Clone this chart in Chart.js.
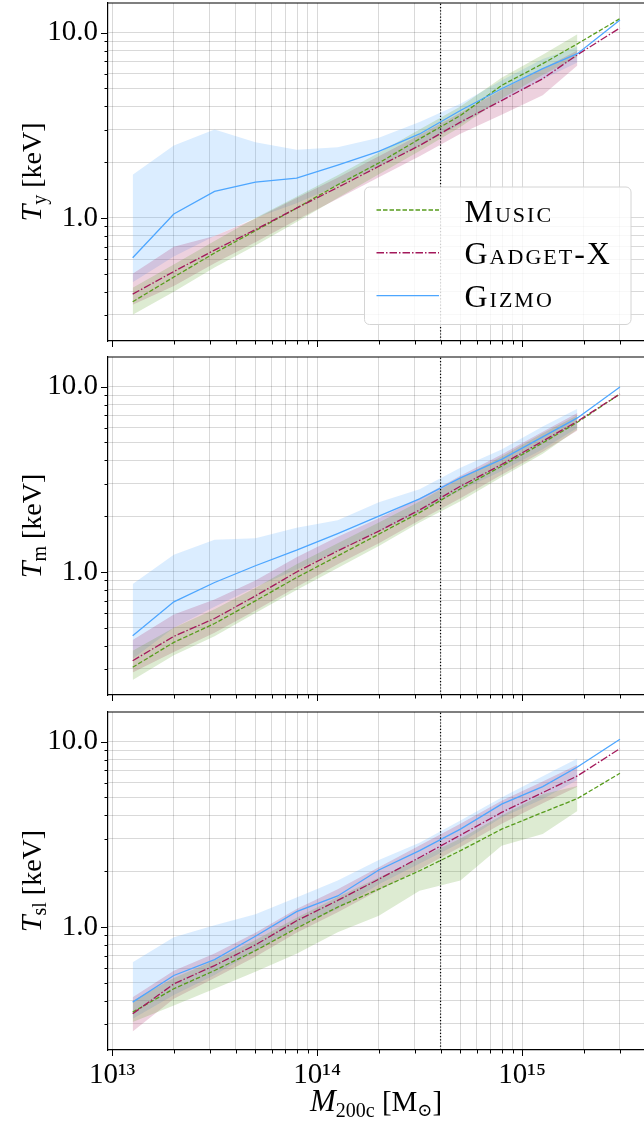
<!DOCTYPE html>
<html>
<head>
<meta charset="utf-8">
<script src="https://cdn.jsdelivr.net/npm/chart.js@4.4.1/dist/chart.umd.min.js"></script>
<style>
  html, body { margin: 0; padding: 0; background: #fff; }
  #wrap { position: relative; width: 644px; height: 1125px; overflow: hidden; }
  canvas { position: absolute; left: 0; }
</style>
</head>
<body>
<div id="wrap">
  <canvas id="tyChart" width="644" height="353" style="top:0px"></canvas>
  <canvas id="tmChart" width="644" height="353" style="top:354px"></canvas>
  <canvas id="tslChart" width="644" height="416" style="top:709px"></canvas>
</div>
<script>
// mass bin centres, M200c [Msun] (last bin has no scatter band)
var massBins = [1.26e13, 2.0e13, 3.16e13, 5.0e13, 7.94e13, 1.26e14, 2.0e14, 3.16e14, 5.0e14, 7.94e14, 1.26e15, 1.86e15, 3.0e15];
var pivotMass = 4e14;
var seriesNames = ["Music", "Gadget-X", "Gizmo"];

// T_y [keV]: median, lower and upper percentiles
var tyMusic    = [0.353, 0.48, 0.647, 0.853, 1.13, 1.51, 1.98, 2.67, 3.57, 5.19, 6.8, 8.7, 11.9];
var tyMusicLo  = [0.30, 0.40, 0.54, 0.71, 0.95, 1.28, 1.72, 2.3, 3.1, 4.4, 5.9, 7.4];
var tyMusicHi  = [0.42, 0.56, 0.75, 1.0, 1.3, 1.7, 2.25, 3.0, 4.0, 5.7, 7.6, 9.8];
var tyGadget   = [0.388, 0.514, 0.671, 0.865, 1.13, 1.46, 1.90, 2.46, 3.29, 4.3, 5.64, 7.6, 10.6];
var tyGadgetLo = [0.34, 0.43, 0.57, 0.74, 0.975, 1.27, 1.66, 2.15, 2.85, 3.6, 4.6, 6.65];
var tyGadgetHi = [0.50, 0.70, 0.80, 0.99, 1.28, 1.65, 2.15, 2.8, 3.7, 4.9, 6.4, 8.0];
var tyGizmo    = [0.61, 1.05, 1.39, 1.56, 1.64, 1.93, 2.29, 2.84, 3.80, 4.98, 6.39, 7.7, 11.7];
var tyGizmoLo  = [0.45, 0.62, 0.8, 1.0, 1.2, 1.5, 1.9, 2.45, 3.2, 4.3, 5.6, 6.9];
var tyGizmoHi  = [1.71, 2.46, 3.0, 2.56, 2.33, 2.41, 2.71, 3.29, 4.13, 5.52, 7.2, 8.4];

// T_m [keV]
var tmMusic    = [0.306, 0.417, 0.527, 0.698, 0.933, 1.22, 1.6, 2.09, 2.81, 3.72, 4.97, 6.42, 9.13];
var tmMusicLo  = [0.261, 0.355, 0.45, 0.6, 0.8, 1.05, 1.38, 1.85, 2.41, 3.25, 4.35, 5.87];
var tmMusicHi  = [0.376, 0.5, 0.63, 0.82, 1.1, 1.43, 1.85, 2.4, 3.2, 4.2, 5.6, 7.0];
var tmGadget   = [0.332, 0.449, 0.561, 0.742, 1.0, 1.3, 1.66, 2.16, 2.9, 3.8, 5.08, 6.5, 9.13];
var tmGadgetLo = [0.287, 0.37, 0.47, 0.62, 0.83, 1.1, 1.43, 1.9, 2.5, 3.35, 4.45, 5.8];
var tmGadgetHi = [0.43, 0.59, 0.71, 0.9, 1.2, 1.55, 1.95, 2.5, 3.3, 4.3, 5.7, 7.2];
var tmGizmo    = [0.452, 0.69, 0.877, 1.08, 1.31, 1.61, 2.0, 2.48, 3.22, 4.05, 5.36, 6.78, 9.96];
var tmGizmoLo  = [0.34, 0.5, 0.65, 0.83, 1.03, 1.3, 1.65, 2.1, 2.75, 3.5, 4.6, 6.0];
var tmGizmoHi  = [0.86, 1.24, 1.49, 1.52, 1.73, 1.9, 2.38, 2.79, 3.65, 4.58, 6.1, 7.59];

// T_sl [keV]
var tslMusic    = [0.347, 0.464, 0.582, 0.745, 0.984, 1.28, 1.6, 2.01, 2.58, 3.37, 4.15, 4.93, 6.75];
var tslMusicLo  = [0.307, 0.377, 0.464, 0.574, 0.716, 0.936, 1.15, 1.57, 1.78, 2.74, 3.17, 4.23];
var tslMusicHi  = [0.4, 0.53, 0.66, 0.85, 1.12, 1.45, 1.85, 2.35, 3.0, 4.0, 5.2, 5.77];
var tslGadget   = [0.34, 0.493, 0.619, 0.8, 1.08, 1.39, 1.81, 2.37, 3.13, 4.15, 5.31, 6.53, 9.17];
var tslGadgetLo = [0.273, 0.41, 0.53, 0.69, 0.93, 1.2, 1.58, 2.05, 2.7, 3.6, 4.65, 5.7];
var tslGadgetHi = [0.418, 0.58, 0.72, 0.93, 1.25, 1.6, 2.1, 2.75, 3.6, 4.8, 6.1, 7.5];
var tslGizmo    = [0.393, 0.547, 0.667, 0.891, 1.21, 1.47, 2.03, 2.58, 3.37, 4.6, 5.72, 7.3, 10.3];
var tslGizmoLo  = [0.32, 0.43, 0.55, 0.74, 1.0, 1.25, 1.7, 2.2, 2.85, 3.9, 4.9, 6.2];
var tslGizmoHi  = [0.645, 0.88, 1.02, 1.17, 1.44, 1.78, 2.3, 2.85, 3.75, 5.0, 6.5, 8.1];

var xTickValues = [1e13, 1e14, 1e15];
var xTickLabels = ["10¹³", "10¹⁴", "10¹⁵"];
var yTickValues = [1, 10];
var yTickLabels = ["1.0", "10.0"];
var xRange = [9.55e12, 3.93e15];
var yRange = [0.2168, 14.45];

var SERIF = "'Liberation Serif', 'DejaVu Serif', serif";
var colors = ["#579c1c", "#a3195b", "#4da6ff"];
var bands = ["rgba(87,156,28,0.2)", "rgba(163,25,91,0.2)", "rgba(77,166,255,0.2)"];
var dashes = [[4.5, 2], [7.5, 2, 1.5, 2], []];

function pts(arr) {
  return arr.map(function (v, i) { return { x: massBins[i], y: v }; });
}

function logTicks(lo, hi) {
  var out = [];
  for (var e = Math.floor(Math.log10(lo)); e <= Math.ceil(Math.log10(hi)); e++) {
    for (var m = 1; m < 10; m++) {
      var v = m * Math.pow(10, e);
      if (v >= lo && v <= hi) out.push(v);
    }
  }
  return out;
}
function isIn(v, list) {
  return list.some(function (m) { return Math.abs(v / m - 1) < 1e-6; });
}

function rich(ctx, parts) {
  var w = 0;
  parts.forEach(function (p) { ctx.font = p.font; w += ctx.measureText(p.text).width; });
  return w;
}
function drawRich(ctx, parts, x, y) {
  parts.forEach(function (p) {
    ctx.font = p.font;
    ctx.fillText(p.text, x, y + (p.dy || 0));
    x += ctx.measureText(p.text).width;
  });
}

var decor = {
  id: "decor",
  afterDraw: function (chart, args, o) {
    var ctx = chart.ctx, a = chart.chartArea;
    var xs = chart.scales.x, ys = chart.scales.y;
    ctx.save();
    ctx.strokeStyle = "#000";
    ctx.lineWidth = 1;
    ctx.beginPath();
    xs.ticks.forEach(function (t) {
      var px = Math.round(xs.getPixelForValue(t.value)) + 0.5;
      var len = isIn(t.value, xTickValues) ? 6 : 3.5;
      ctx.moveTo(px, a.bottom); ctx.lineTo(px, a.bottom + len);
    });
    ys.ticks.forEach(function (t) {
      var py = Math.round(ys.getPixelForValue(t.value)) + 0.5;
      var len = isIn(t.value, yTickValues) ? 7 : 3.5;
      ctx.moveTo(a.left, py); ctx.lineTo(a.left - len, py);
    });
    ctx.stroke();
    // top spine
    ctx.lineWidth = 1.2;
    ctx.beginPath();
    ctx.moveTo(a.left, a.top); ctx.lineTo(a.right, a.top);
    ctx.stroke();

    ctx.fillStyle = "#000";
    ctx.textBaseline = "alphabetic";
    // y title
    var yparts = [
      { text: "T", font: "italic 30px " + SERIF },
      { text: o.sub, font: "20px " + SERIF, dy: 5 },
      { text: " [keV]", font: "28px " + SERIF }
    ];
    ctx.save();
    ctx.translate(41, (a.top + a.bottom) / 2);
    ctx.rotate(-Math.PI / 2);
    drawRich(ctx, yparts, -rich(ctx, yparts) / 2, 0);
    ctx.restore();

    if (o.xtitle) {
      var xparts = [
        { text: "M", font: "italic 31px " + SERIF },
        { text: "200c", font: "20px " + SERIF, dy: 5.5 },
        { text: " [M", font: "29px " + SERIF },
        { text: "⊙", font: "18px " + SERIF, dy: 5 },
        { text: "]", font: "29px " + SERIF }
      ];
      drawRich(ctx, xparts, (a.left + a.right) / 2 - rich(ctx, xparts) / 2, a.bottom + 61);
    }

    if (o.legend) {
      var bx = 364.5, by = 187, bw = 266.5, bh = 137.5, r = 5;
      ctx.beginPath();
      ctx.moveTo(bx + r, by);
      ctx.arcTo(bx + bw, by, bx + bw, by + bh, r);
      ctx.arcTo(bx + bw, by + bh, bx, by + bh, r);
      ctx.arcTo(bx, by + bh, bx, by, r);
      ctx.arcTo(bx, by, bx + bw, by, r);
      ctx.closePath();
      ctx.fillStyle = "rgba(255,255,255,0.8)";
      ctx.fill();
      ctx.strokeStyle = "#d4d4d4";
      ctx.lineWidth = 1;
      ctx.stroke();
      seriesNames.forEach(function (name, i) {
        var ry = 210 + i * 42.8;
        ctx.strokeStyle = colors[i];
        ctx.lineWidth = 1.4;
        ctx.setLineDash(dashes[i]);
        ctx.beginPath();
        ctx.moveTo(376.5, ry); ctx.lineTo(439, ry);
        ctx.stroke();
        ctx.setLineDash([]);
        ctx.fillStyle = "#000";
        ctx.font = "small-caps 32px " + SERIF;
        ctx.fontVariantCaps = "small-caps";
        ctx.letterSpacing = "2px";
        ctx.fillText(name, 464.5, ry + 11.5);
        ctx.letterSpacing = "0px";
      });
    }
    ctx.restore();
  }
};

function makePanel(id, sets, sub, bottom) {
  var datasets = [];
  sets.forEach(function (s, i) {
    datasets.push({
      data: pts(s[2]), borderWidth: 0, pointRadius: 0, tension: 0,
      backgroundColor: bands[i], fill: "+1", order: 3
    });
    datasets.push({
      data: pts(s[1]), borderWidth: 0, pointRadius: 0, tension: 0,
      fill: false, order: 3
    });
  });
  datasets.push({
    data: [{ x: pivotMass, y: yRange[0] }, { x: pivotMass, y: yRange[1] }],
    borderColor: "#000", borderWidth: 1.2, borderDash: [1.2, 2],
    pointRadius: 0, fill: false, order: 2
  });
  sets.forEach(function (s, i) {
    datasets.push({
      label: seriesNames[i], data: pts(s[0]), borderColor: colors[i],
      borderWidth: 1.3, borderDash: dashes[i], pointRadius: 0, tension: 0,
      fill: false, order: 1 - i * 0.1
    });
  });

  var canvas = document.getElementById(id);
  var chartH = 338;
  var xAxisH = canvas.height - 3 - chartH;

  return new Chart(canvas.getContext("2d"), {
    type: "line",
    data: { datasets: datasets },
    plugins: [decor],
    options: {
      responsive: false,
      animation: false,
      layout: { padding: { top: 3, right: 0, left: 0, bottom: 0 } },
      plugins: {
        legend: { display: false },
        tooltip: { enabled: false },
        decor: { sub: sub, xtitle: bottom, legend: id === "tyChart" }
      },
      scales: {
        x: {
          type: "logarithmic", min: xRange[0], max: xRange[1],
          afterBuildTicks: function (sc) {
            sc.ticks = logTicks(xRange[0], xRange[1]).map(function (v) { return { value: v }; });
          },
          afterFit: function (sc) {
            sc.height = xAxisH;
            sc.paddingLeft = 0; sc.paddingRight = 0;
          },
          grid: { color: "rgba(0,0,0,0.15)", lineWidth: 1, drawTicks: false },
          border: { color: "#000", width: 1.2 },
          ticks: {
            display: bottom, autoSkip: false, maxRotation: 0, padding: 8,
            color: "#000", font: { family: SERIF, size: 29 },
            callback: function (v) {
              var k = xTickValues.findIndex(function (m) { return Math.abs(v / m - 1) < 1e-6; });
              return k >= 0 ? xTickLabels[k] : "";
            }
          }
        },
        y: {
          type: "logarithmic", min: yRange[0], max: yRange[1],
          afterBuildTicks: function (sc) {
            sc.ticks = logTicks(yRange[0], yRange[1]).map(function (v) { return { value: v }; });
          },
          afterFit: function (sc) {
            sc.width = 108;
            sc.paddingTop = 0; sc.paddingBottom = 0;
          },
          grid: { color: "rgba(0,0,0,0.15)", lineWidth: 1, drawTicks: false },
          border: { color: "#000", width: 1.2 },
          ticks: {
            autoSkip: false, padding: 10, color: "#000",
            font: { family: SERIF, size: 29 },
            callback: function (v) {
              var k = yTickValues.findIndex(function (m) { return Math.abs(v / m - 1) < 1e-6; });
              return k >= 0 ? yTickLabels[k] : "";
            }
          }
        }
      }
    }
  });
}

makePanel("tyChart", [[tyMusic, tyMusicLo, tyMusicHi], [tyGadget, tyGadgetLo, tyGadgetHi], [tyGizmo, tyGizmoLo, tyGizmoHi]], "y", false);
makePanel("tmChart", [[tmMusic, tmMusicLo, tmMusicHi], [tmGadget, tmGadgetLo, tmGadgetHi], [tmGizmo, tmGizmoLo, tmGizmoHi]], "m", false);
makePanel("tslChart", [[tslMusic, tslMusicLo, tslMusicHi], [tslGadget, tslGadgetLo, tslGadgetHi], [tslGizmo, tslGizmoLo, tslGizmoHi]], "sl", true);
</script>
</body>
</html>
